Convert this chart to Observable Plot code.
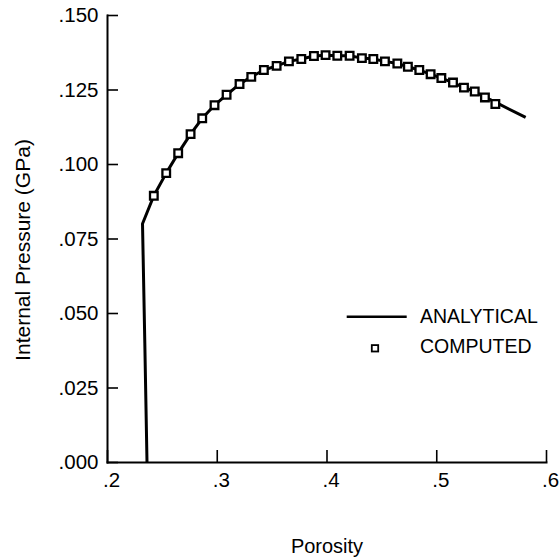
<!DOCTYPE html>
<html>
<head>
<meta charset="utf-8">
<script src="https://cdn.jsdelivr.net/npm/d3@7"></script>
<script src="https://cdn.jsdelivr.net/npm/@observablehq/plot@0.6"></script>
<style>
  html, body { margin: 0; padding: 0; background: #fff; }
  #wrap { position: relative; width: 560px; height: 560px; font-family: "Liberation Sans", Arial, sans-serif; }
  #legend { position: absolute; left: 340px; top: 300px; }
  #wrap svg g[aria-label$="tick label"] { font-size: 20.5px; }
</style>
</head>
<body>
<div id="wrap"></div>
<script>
// Analytical curve (porosity, internal pressure GPa)
const analyticalPorosity = [0.2360, 0.2340, 0.2319, 0.2422, 0.2535, 0.2644, 0.2757, 0.2863, 0.2975, 0.3085, 0.3203, 0.3310, 0.3425, 0.3541, 0.3653, 0.3766, 0.3881, 0.3987, 0.4094, 0.4206, 0.4318, 0.4422, 0.4528, 0.4641, 0.4737, 0.4841, 0.4944, 0.5042, 0.5148, 0.5248, 0.5346, 0.5439, 0.5534, 0.5810];
const analyticalPressure = [0.0000, 0.0400, 0.0801, 0.0895, 0.0971, 0.1038, 0.1102, 0.1155, 0.1199, 0.1234, 0.1270, 0.1294, 0.1317, 0.1331, 0.1346, 0.1354, 0.1364, 0.1367, 0.1365, 0.1365, 0.1357, 0.1354, 0.1346, 0.1339, 0.1328, 0.1317, 0.1303, 0.1290, 0.1275, 0.1258, 0.1245, 0.1226, 0.1209, 0.1158];

// Computed points
const computedPorosity = [0.2422, 0.2535, 0.2644, 0.2757, 0.2863, 0.2975, 0.3085, 0.3203, 0.3310, 0.3425, 0.3541, 0.3653, 0.3766, 0.3881, 0.3987, 0.4094, 0.4206, 0.4318, 0.4422, 0.4528, 0.4641, 0.4737, 0.4841, 0.4944, 0.5042, 0.5148, 0.5248, 0.5346, 0.5439, 0.5534];
const computedPressure = [0.0895, 0.0971, 0.1038, 0.1102, 0.1155, 0.1199, 0.1234, 0.1270, 0.1294, 0.1317, 0.1331, 0.1346, 0.1354, 0.1364, 0.1367, 0.1365, 0.1365, 0.1357, 0.1354, 0.1346, 0.1339, 0.1328, 0.1317, 0.1303, 0.1290, 0.1275, 0.1258, 0.1245, 0.1225, 0.1203];

const xTicks = [0.2, 0.3, 0.4, 0.5, 0.6];
const yTicks = [0, 0.025, 0.05, 0.075, 0.1, 0.125, 0.15];
const xLabel = "Porosity";
const yLabel = "Internal Pressure (GPa)";
const legendLabels = ["ANALYTICAL", "COMPUTED"];

const analytical = analyticalPorosity.map((p, i) => ({p, v: analyticalPressure[i]}));
const computed = computedPorosity.map((p, i) => ({p, v: computedPressure[i]}));

const fmtY = d => d.toFixed(3).replace(/^0/, "");
const fmtX = d => String(d).replace(/^0/, "");
const FONT = "'Liberation Sans', Arial, sans-serif";

const chart = Plot.plot({
  width: 560,
  height: 560,
  marginLeft: 107,
  marginRight: 14,
  marginTop: 15,
  marginBottom: 98,
  style: {fontSize: "20px", fontFamily: FONT, color: "#000", background: "#fff"},
  x: {domain: [0.2, 0.6]},
  y: {domain: [0, 0.15]},
  marks: [
    Plot.frame({anchor: "left", strokeWidth: 2}),
    Plot.frame({anchor: "bottom", strokeWidth: 2}),
    // inward ticks
    Plot.axisY(yTicks, {tickSize: -11, strokeWidth: 1.6, tickFormat: () => "", label: null}),
    Plot.axisX(xTicks, {tickSize: -12, strokeWidth: 1.6, tickFormat: () => "", label: null}),
    // tick labels
    Plot.axisY(yTicks, {tickSize: 0, tickPadding: 9, tickFormat: fmtY, fontSize: 21, label: null}),
    Plot.axisX(xTicks, {tickSize: 0, tickPadding: 10, tickFormat: fmtX, fontSize: 21, dx: 4, label: null}),
    // axis titles
    Plot.text([yLabel], {frameAnchor: "left", rotate: -90, dx: -84, dy: 11, fontSize: 21, lineAnchor: "middle", textAnchor: "middle"}),
    Plot.text([xLabel], {frameAnchor: "bottom", dy: 84, fontSize: 20, lineAnchor: "middle", textAnchor: "middle"}),
    // data
    Plot.line(analytical, {x: "p", y: "v", stroke: "#000", strokeWidth: 3, strokeLinejoin: "round", strokeLinecap: "butt"}),
    Plot.dot(computed, {x: "p", y: "v", symbol: "square", r: 4.3, stroke: "#000", strokeWidth: 2.3, fill: "#fff"})
  ]
});

const wrap = document.getElementById("wrap");
wrap.appendChild(chart);

const legend = document.createElement("div");
legend.id = "legend";
legend.innerHTML = `
<svg width="220" height="70" xmlns="http://www.w3.org/2000/svg" style="font-family:${FONT};font-size:19.5px">
  <line x1="6.7" x2="66.7" y1="16.7" y2="16.7" stroke="#000" stroke-width="2.5"/>
  <text x="80" y="23.3" fill="#000">${legendLabels[0]}</text>
  <rect x="31.8" y="45.1" width="6.4" height="6.4" fill="#fff" stroke="#000" stroke-width="1.8"/>
  <text x="80" y="53.3" fill="#000">${legendLabels[1]}</text>
</svg>`;
wrap.appendChild(legend);
</script>
</body>
</html>
